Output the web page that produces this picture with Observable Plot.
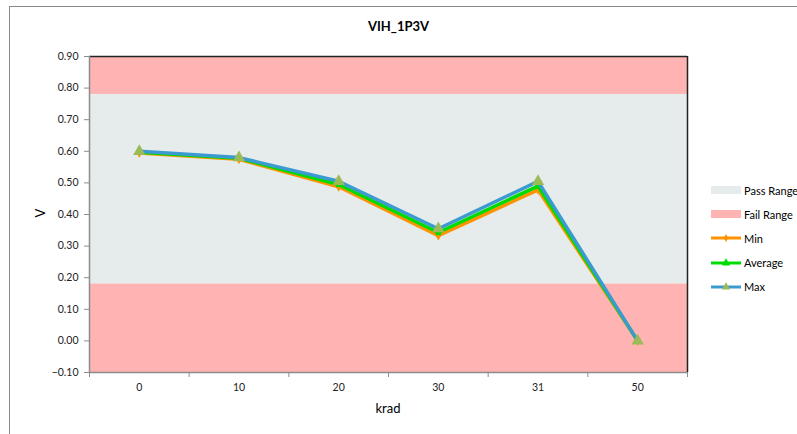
<!DOCTYPE html>
<html>
<head>
<meta charset="utf-8">
<script src="https://cdn.jsdelivr.net/npm/d3@7"></script>
<script src="https://cdn.jsdelivr.net/npm/@observablehq/plot@0.6"></script>
<style>
  html, body { margin: 0; padding: 0; background: #fff; overflow: hidden; }
  #wrap { position: relative; width: 797px; height: 434px; font-family: Lato, "Open Sans", sans-serif; overflow: hidden; }
  #frame { position: absolute; left: 9px; top: 6px; width: 820px; height: 460px; border: 1px solid #8a8a8a; box-sizing: border-box; }
  #chart { position: absolute; left: 0; top: 0; }
  #title { position: absolute; left: 0; width: 797px; top: 18px; text-align: center; font-weight: bold; font-size: 13px; color: #000; }
  #xlabel { position: absolute; left: 89px; width: 598px; top: 400px; text-align: center; font-size: 13px; color: #000; }
  #ylabel { position: absolute; left: 36px; top: 205px; font-size: 13px; color: #000; transform: rotate(-90deg); transform-origin: center; }
  #legend { position: absolute; left: 710px; top: 178px; width: 120px; font-size: 11px; color: #000; white-space: nowrap; }
  .li { display: flex; align-items: center; height: 24.2px; white-space: nowrap; }
  .li svg { margin-right: 2px; flex: none; }
</style>
</head>
<body>
<div id="wrap">
  <div id="frame"></div>
  <div id="chart"></div>
  <div id="title">VIH_1P3V</div>
  <div id="xlabel">krad</div>
  <div id="ylabel">V</div>
  <div id="legend"></div>
</div>
<script>
const categories = ["0", "10", "20", "30", "31", "50"];
const minValues = [0.595, 0.575, 0.488, 0.333, 0.478, 0.00];
const avgValues = [0.597, 0.578, 0.495, 0.343, 0.490, 0.00];
const maxValues = [0.600, 0.580, 0.505, 0.355, 0.505, 0.00];
const yTicks = [-0.1, 0, 0.1, 0.2, 0.3, 0.4, 0.5, 0.6, 0.7, 0.8, 0.9];
const passRange = [0.18, 0.78];
const failRanges = [[0.78, 0.90], [-0.10, 0.18]];

const colors = {Min: "#FF9200", Average: "#00DC00", Max: "#3B9BD0", marker: "#9BBB59", pass: "#E6ECEC", fail: "#FFB3B3"};

const idx = categories.map((c, i) => i);
const boundaries = d3.range(categories.length + 1).map(i => i - 0.5);
const seriesData = [
  {name: "Min", values: minValues},
  {name: "Average", values: avgValues},
  {name: "Max", values: maxValues}
].flatMap(s => s.values.map((v, i) => ({series: s.name, i, v})));
const bands = [
  {y1: passRange[0], y2: passRange[1], kind: "pass"},
  ...failRanges.map(r => ({y1: r[0], y2: r[1], kind: "fail"}))
];
const yMin = d3.min(yTicks), yMax = d3.max(yTicks);

const chart = Plot.plot({
  width: 797,
  height: 434,
  marginLeft: 89,
  marginRight: 110,
  marginTop: 56,
  marginBottom: 62,
  style: {fontFamily: "Lato, 'Open Sans', sans-serif", fontSize: "10.5px", color: "#222", background: "transparent"},
  x: {type: "linear", domain: [boundaries[0], boundaries[boundaries.length - 1]], axis: null},
  y: {type: "linear", domain: [yMin, yMax], axis: null},
  marks: [
    Plot.rect(bands, {y1: "y1", y2: "y2", fill: d => d.kind === "pass" ? colors.pass : colors.fail}),
    Plot.ruleY([yMax], {stroke: "#222", strokeWidth: 1.5}),
    Plot.ruleX([boundaries[boundaries.length - 1]], {stroke: "#222", strokeWidth: 1.5}),
    Plot.ruleX([boundaries[0]], {stroke: "#8c8c8c", strokeWidth: 1.5}),
    Plot.ruleY([yMin], {stroke: "#8c8c8c", strokeWidth: 1.5}),
    Plot.axisY({ticks: yTicks, tickFormat: d3.format(".2f"), tickSize: 5, tickPadding: 6, stroke: "#8c8c8c", fill: "#222", label: null}),
    Plot.axisX({ticks: boundaries, tickFormat: () => "", tickSize: 5, stroke: "#8c8c8c", label: null}),
    Plot.axisX({ticks: idx, tickFormat: i => categories[i], tickSize: 0, tickPadding: 11, fill: "#222", label: null}),
    Plot.line(seriesData.filter(d => d.series === "Min"), {x: "i", y: "v", stroke: colors.Min, strokeWidth: 3.5}),
    Plot.dot(seriesData.filter(d => d.series === "Min"), {x: "i", y: "v", symbol: "diamond", r: 3, fill: colors.Min}),
    Plot.line(seriesData.filter(d => d.series === "Average"), {x: "i", y: "v", stroke: colors.Average, strokeWidth: 3.5}),
    Plot.dot(seriesData.filter(d => d.series === "Average"), {x: "i", y: "v", symbol: "square", r: 3, fill: colors.Average}),
    Plot.line(seriesData.filter(d => d.series === "Max"), {x: "i", y: "v", stroke: colors.Max, strokeWidth: 3.5}),
    Plot.dot(seriesData.filter(d => d.series === "Max"), {x: "i", y: "v", symbol: "triangle", r: 4.6, fill: colors.marker})
  ]
});
document.getElementById("chart").appendChild(chart);

// Legend
const legendItems = [
  {label: "Pass Range", type: "box", color: colors.pass},
  {label: "Fail Range", type: "box", color: colors.fail},
  {label: "Min", type: "line", color: colors.Min, marker: "diamond", mcolor: colors.Min},
  {label: "Average", type: "line", color: colors.Average, marker: "triangle", mcolor: colors.Average},
  {label: "Max", type: "line", color: colors.Max, marker: "triangle", mcolor: colors.marker}
];
const legend = document.getElementById("legend");
for (const it of legendItems) {
  const row = document.createElement("div");
  row.className = "li";
  const ns = "http://www.w3.org/2000/svg";
  const svg = document.createElementNS(ns, "svg");
  svg.setAttribute("width", 32); svg.setAttribute("height", 12);
  if (it.type === "box") {
    const r = document.createElementNS(ns, "rect");
    r.setAttribute("x", 1); r.setAttribute("y", 2); r.setAttribute("width", 30); r.setAttribute("height", 8);
    r.setAttribute("fill", it.color);
    svg.appendChild(r);
  } else {
    const l = document.createElementNS(ns, "line");
    l.setAttribute("x1", 1); l.setAttribute("x2", 31); l.setAttribute("y1", 6); l.setAttribute("y2", 6);
    l.setAttribute("stroke", it.color); l.setAttribute("stroke-width", 3);
    svg.appendChild(l);
    const p = document.createElementNS(ns, "path");
    const sym = it.marker === "diamond" ? d3.symbolDiamond : d3.symbolTriangle;
    p.setAttribute("d", d3.symbol(sym, it.marker === "diamond" ? 18 : 30)());
    p.setAttribute("transform", "translate(16,6)");
    p.setAttribute("fill", it.mcolor);
    svg.appendChild(p);
  }
  row.appendChild(svg);
  const t = document.createElement("span");
  t.textContent = it.label;
  row.appendChild(t);
  legend.appendChild(row);
}
</script>
</body>
</html>
